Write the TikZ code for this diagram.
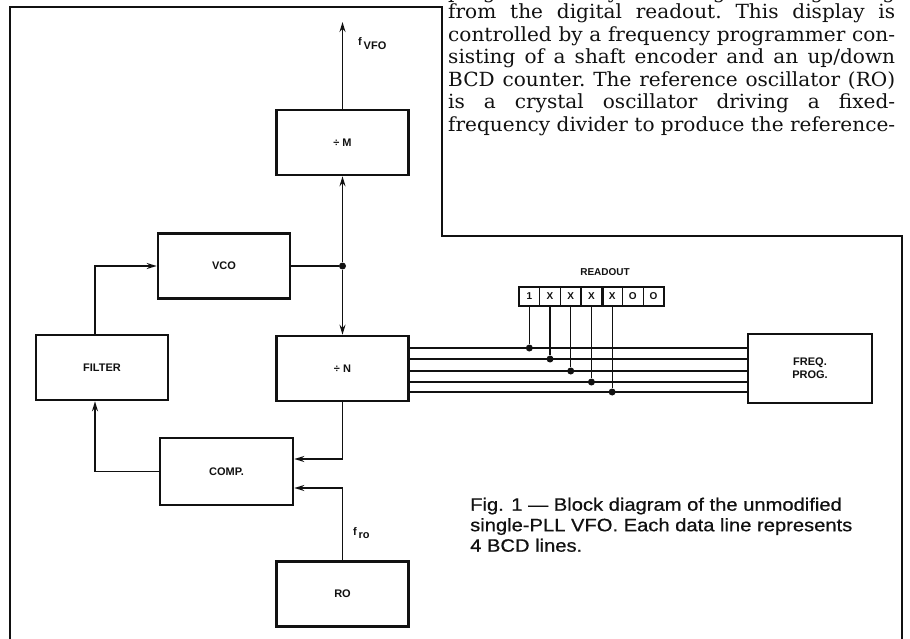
\documentclass[tikz,border=0pt]{standalone}
\usepackage{fontspec}
\setmainfont{DejaVu Serif}
\setsansfont{Liberation Sans}
\newfontfamily\colfont[FakeStretch=1.03]{DejaVu Serif}
\newfontfamily\capfont[FakeStretch=1.12,FakeBold=0.6]{Liberation Sans}
\usetikzlibrary{arrows.meta,positioning,calc}
\definecolor{ink}{HTML}{111111}
\definecolor{paper}{HTML}{FFFFFF}
\tikzset{
  blockbox/.style={draw=ink, line width=2.6pt, fill=paper, minimum width=132pt,
                   minimum height=65pt, inner sep=0pt, align=center, text=ink,
                   font=\sffamily\bfseries\fontsize{11}{13}\selectfont},
  digitbox/.style={draw=ink, line width=1.4pt, minimum width=20.7pt, minimum height=19pt,
                   inner sep=0pt, text=ink, font=\sffamily\bfseries\fontsize{10}{10}\selectfont},
  arr/.style={-{Stealth[length=10pt,width=6pt]}, line width=1.4pt, color=ink},
  wire/.style={line width=1.3pt, color=ink},
  tapdot/.style={circle, fill=ink, inner sep=0pt, minimum size=7pt},
  frameline/.style={line width=1.8pt, color=ink},
  lbl/.style={inner sep=0pt, text=ink, font=\sffamily\bfseries\fontsize{11}{13}\selectfont},
  coltext/.style={anchor=base west, inner sep=0pt, text=ink, font=\colfont\frenchspacing\fontsize{19.5}{22.5}\selectfont}}

\begin{document}
\begin{tikzpicture}[x=1pt,y=-1pt]
  \fill[paper] (0,0) rectangle (910,639);
  \useasboundingbox (0,0) rectangle (910,639);

  % page frame round the figure
  \draw[frameline] (10,650) -- (10,7) -- (442,7) -- (442,236) -- (902,236) -- (902,650);

  % column text above the figure
  \node[coltext] (col0) at (448,-1)    {\makebox[447pt][s]{programmed by BCD signals originating}};
  \node[coltext] (col1) at (448,19)    {\makebox[447pt][s]{from the digital readout. This display is}};
  \node[coltext] (col2) at (448,41.5)  {\makebox[447pt][s]{controlled by a frequency programmer con-}};
  \node[coltext] (col3) at (448,64)    {\makebox[447pt][s]{sisting of a shaft encoder and an up/down}};
  \node[coltext] (col4) at (448,86.5)  {\makebox[447pt][s]{BCD counter. The reference oscillator (RO)}};
  \node[coltext] (col5) at (448,109)   {\makebox[447pt][s]{is a crystal oscillator driving a fixed-}};
  \node[coltext] (col6) at (448,131.5) {\makebox[447pt][s]{frequency divider to produce the reference-}};

  % blocks
  \node[blockbox] (divM)   at (342.5,142.5) {÷ M};
  \node[blockbox] (vco)    at (224,266)     {VCO};
  \node[blockbox] (filter) at (102,367.5)   {FILTER};
  \node[blockbox] (divN)   at (342.5,368.5) {÷ N};
  \node[blockbox, minimum width=133pt, minimum height=67pt] (comp) at (226.5,471.5) {COMP.};
  \node[blockbox] (ro)     at (342.5,594)   {RO};
  \node[blockbox, minimum width=124pt, minimum height=69pt] (prog) at (810,368.5) {FREQ.\\PROG.};

  % loop connections
  \coordinate (vfo) at (342.5,22);
  \draw[arr] (divM.north) -- (vfo);
  \node[lbl, anchor=west] (fvfo) at (358,44) {f\,\raisebox{-4pt}{VFO}};
  \node[tapdot] (tap) at (divM.south |- vco.east) {};
  \draw[wire] (vco.east) -- (tap);
  \draw[arr] (tap) -- (divM.south);
  \draw[arr] (tap) -- (divN.north);
  \draw[arr] ([xshift=-7pt]filter.north) |- (vco.west);
  \draw[arr] (comp.west) -| ([xshift=-7pt]filter.south);
  \draw[arr] (divN.south) |- ([yshift=12.5pt]comp.east);
  \draw[arr] (ro.north) |- ([yshift=-16.5pt]comp.east);
  \node[lbl, anchor=west] (fro) at (353,533) {f\,\raisebox{-3pt}{ro}};

  % readout and data lines
  \node[lbl, font=\sffamily\bfseries\fontsize{10}{12}\selectfont] (readout) at (605,272) {READOUT};
  \foreach \d [count=\i] in {1,X,X,X,X,O,O}
    \node[digitbox] (d\i) at ({529.35+(\i-1)*20.7},296.5) {\d};
  \draw[line width=2.6pt, color=ink] (d4.north east) -- (d4.south east);
  \foreach \y [count=\i] in {348,359,371,382,392} {
    \draw[wire] (divN.east |- 0,\y) -- (prog.west |- 0,\y);
    \node[tapdot] (t\i) at (d\i.south |- 0,\y) {};
    \draw[wire] (d\i.south) -- (t\i);
  }

  % caption
  \node[anchor=north west, align=left, inner sep=0pt, text=ink,
        font=\capfont\fontsize{18}{20.5}\selectfont] (caption) at (470,497.5)
    {Fig. 1 — Block diagram of the unmodified\\
     single-PLL VFO. Each data line represents\\
     4 BCD lines.};
\end{tikzpicture}
\end{document}
